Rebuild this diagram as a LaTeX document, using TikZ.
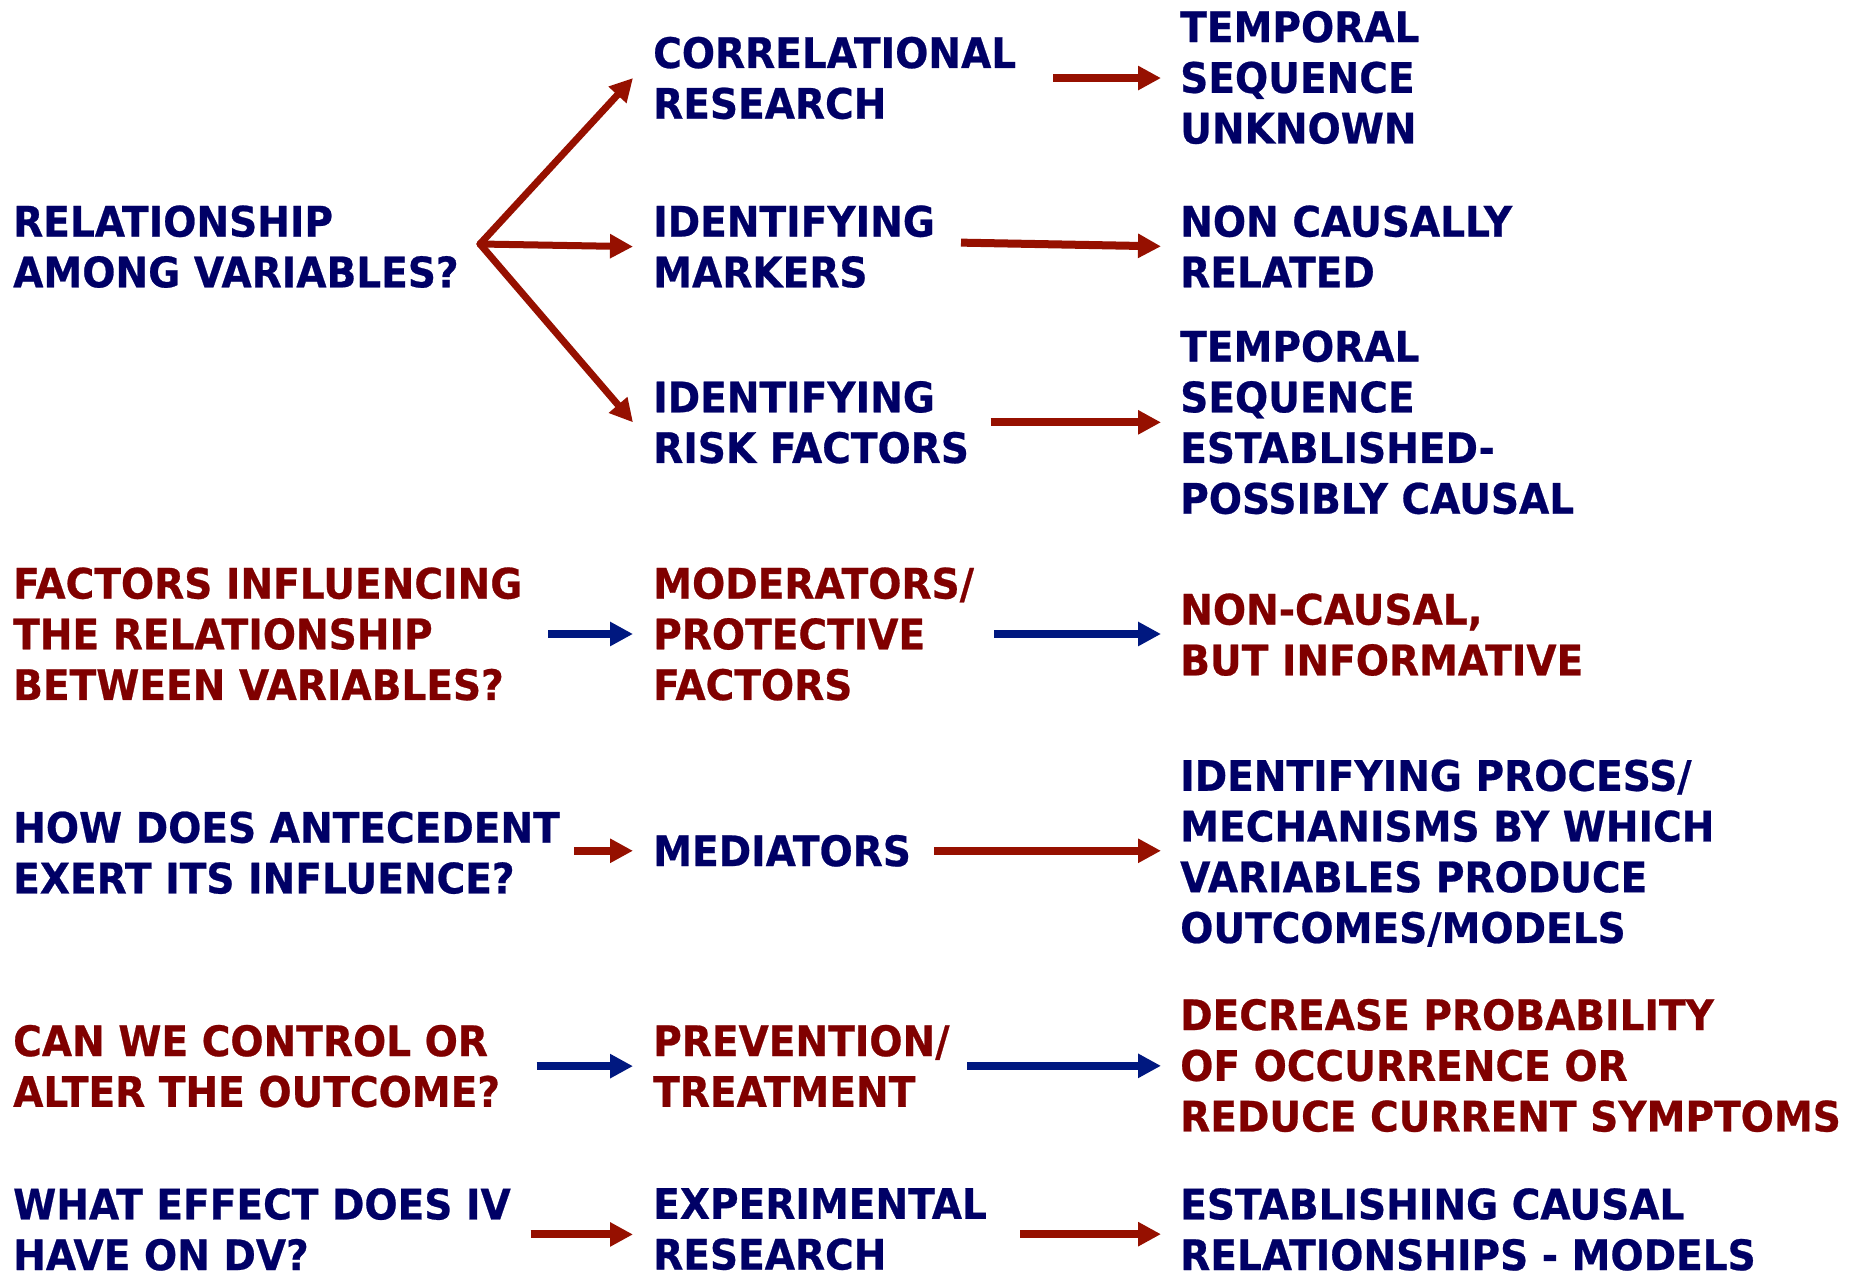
\documentclass[tikz,border=0pt]{standalone}
\usepackage{fontspec}
\usetikzlibrary{arrows.meta,calc}
\newfontfamily\lab[FakeStretch=0.93,FakeBold=0.6]{DejaVu Sans}
\definecolor{navytxt}{RGB}{0,0,102}
\definecolor{redtxt}{RGB}{128,0,0}
\definecolor{arrred}{RGB}{150,16,0}
\definecolor{arrblue}{RGB}{0,24,128}
\begin{document}
\begin{tikzpicture}[x=1pt,y=-1pt,
  lbl/.style={anchor=north west, inner sep=0pt, align=left,
    font=\lab\bfseries\fontsize{42}{50.7}\selectfont},
  navy/.style={lbl, text=navytxt},
  maroon/.style={lbl, text=redtxt},
  redarr/.style={draw=arrred, line width=8pt, -{Triangle[length=23pt,width=23pt]}},
  bluearr/.style={draw=arrblue, line width=7.5pt, -{Triangle[length=23pt,width=23pt]}}]
\path[use as bounding box, fill=white] (0,0) rectangle (1849,1279);

% first column: questions
\node[navy]   (rel)  at (13,205.2)  {RELATIONSHIP\\AMONG VARIABLES?};
\node[maroon] (fac)  at (13,567.2)  {FACTORS INFLUENCING\\THE RELATIONSHIP\\BETWEEN VARIABLES?};
\node[navy]   (how)  at (13,811.3)  {HOW DOES ANTECEDENT\\EXERT ITS INFLUENCE?};
\node[maroon] (can)  at (13,1024.7) {CAN WE CONTROL OR\\ALTER THE OUTCOME?};
\node[navy]   (what) at (13,1188)   {WHAT EFFECT DOES IV\\HAVE ON DV?};

% second column: approaches
\node[navy]   (corr) at (653,36.6)   {CORRELATIONAL\\RESEARCH};
\node[navy]   (mark) at (653,205.2)  {IDENTIFYING\\MARKERS};
\node[navy]   (risk) at (653,380.9)  {IDENTIFYING\\RISK FACTORS};
\node[maroon] (mod)  at (653,567.2)  {MODERATORS/\\PROTECTIVE\\FACTORS};
\node[navy]   (med)  at (653,834.7)  {MEDIATORS};
\node[maroon] (prev) at (653,1024.7) {PREVENTION/\\TREATMENT};
\node[navy]   (exp)  at (653,1188)   {EXPERIMENTAL\\RESEARCH};

% third column: what each approach yields
\node[navy]   (t1)  at (1180,10.7)   {TEMPORAL\\SEQUENCE\\UNKNOWN};
\node[navy]   (ncr) at (1180,205.2)  {NON CAUSALLY\\RELATED};
\node[navy]   (t2)  at (1180,330.2)  {TEMPORAL\\SEQUENCE\\ESTABLISHED-\\POSSIBLY CAUSAL};
\node[maroon] (nci) at (1180,593.2)  {NON-CAUSAL,\\BUT INFORMATIVE};
\node[navy]   (idp) at (1180,759.4)  {IDENTIFYING PROCESS/\\MECHANISMS BY WHICH\\VARIABLES PRODUCE\\OUTCOMES/MODELS};
\node[maroon] (dec) at (1180,998.7)  {DECREASE PROBABILITY\\OF OCCURRENCE OR\\REDUCE CURRENT SYMPTOMS};
\node[navy]   (est) at (1180,1188)   {ESTABLISHING CAUSAL\\RELATIONSHIPS - MODELS};

% fan out of the first question
\coordinate (fan) at (480,244);
\draw[redarr, line width=7pt, line cap=round] (fan) -- ([xshift=-20pt]corr.west);
\draw[redarr, line width=7pt, line cap=round] (fan) -- ([xshift=-20pt]mark.west);
\draw[redarr, line width=7pt, line cap=round] (fan) -- ([xshift=-20pt]risk.west);

% approach -> result
\draw[redarr] ($(corr.west)+(400,0)$) -- ($(t1.west |- corr.west)+(-19,0)$);
\draw[redarr] ($(mark.west)+(308,-4)$) -- ($(ncr.west)+(-19,0)$);
\draw[redarr] ($(risk.west)+(337.5,0)$) -- ($(t2.west |- risk.west)+(-19,0)$);

% moderators row
\draw[bluearr] ($(fac.west)+(535,0)$) -- ($(mod.west |- fac.west)+(-20,0)$);
\draw[bluearr] ($(mod.west)+(341,0)$) -- ($(nci.west |- mod.west)+(-19,0)$);

% mediators row
\draw[redarr] ($(how.west |- med.west)+(561,0)$) -- ($(med.west)+(-20,0)$);
\draw[redarr] ($(med.west)+(281,0)$) -- ($(idp.west |- med.west)+(-19,0)$);

% prevention row
\draw[bluearr] ($(can.west)+(523.5,0)$) -- ($(prev.west |- can.west)+(-20,0)$);
\draw[bluearr] ($(prev.west)+(314,0)$) -- ($(dec.west |- prev.west)+(-19,0)$);

% experimental row
\draw[redarr] ($(what.west)+(517.6,5)$) -- ($(exp.west |- what.west)+(-20,5)$);
\draw[redarr] ($(exp.west)+(367,5)$) -- ($(est.west |- exp.west)+(-19,5)$);
\end{tikzpicture}
\end{document}
